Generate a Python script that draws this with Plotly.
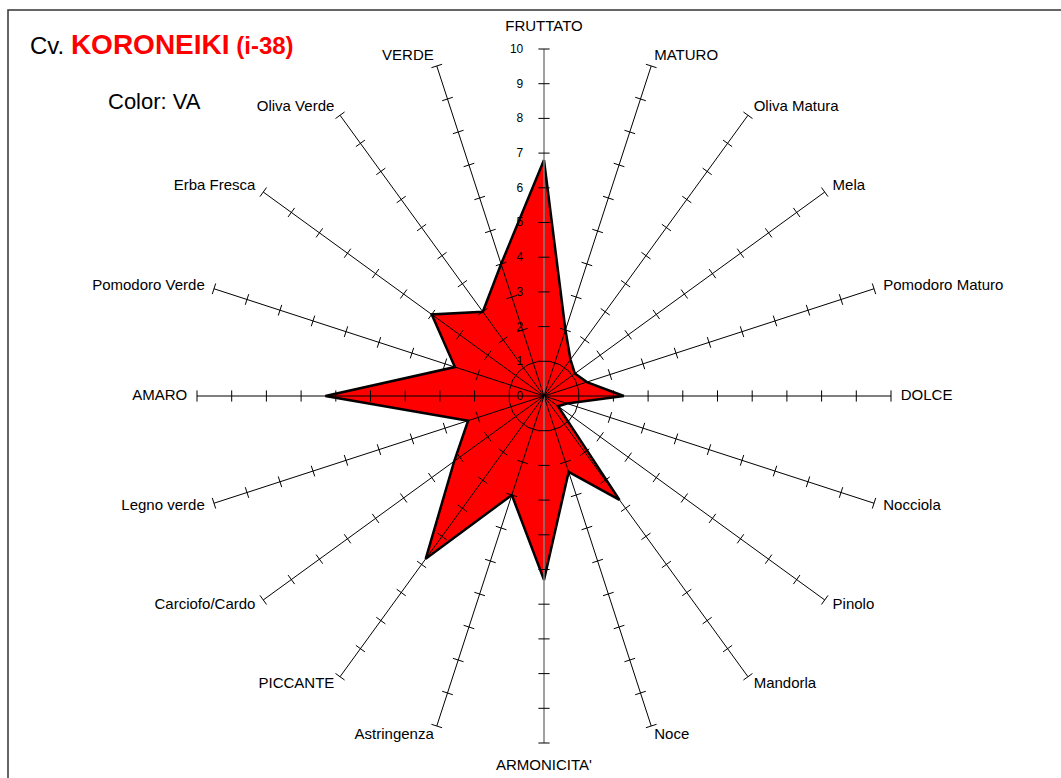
import plotly.graph_objects as go

categories = ["FRUTTATO", "MATURO", "Oliva Matura", "Mela", "Pomodoro Maturo", "DOLCE",
              "Nocciola", "Pinolo", "Mandorla", "Noce", "ARMONICITA'", "Astringenza",
              "PICCANTE", "Carciofo/Cardo", "Legno verde", "AMARO", "Pomodoro Verde",
              "Erba Fresca", "Oliva Verde", "VERDE"]
values = [6.8, 2.0, 1.3, 1.1, 1.3, 2.3, 0.7, 0.5, 3.7, 2.3, 5.3, 3.0,
          5.8, 3.2, 2.3, 6.3, 2.7, 4.0, 3.0, 4.0]
radial_ticks = list(range(0, 11))

FONT = "Liberation Sans, Arial, sans-serif"
W, H = 1061, 778
cx, cy, R = 544, 396, 347          # centre and pixel length of the value 10

rmax = radial_ticks[-1]
range_max = rmax * 1.05            # room for the category labels
Rd = R * range_max / rmax

fig = go.Figure()

# filled profile
fig.add_trace(go.Scatterpolar(
    r=values + [values[0]], theta=categories + [categories[0]],
    mode="lines", fill="toself", fillcolor="#FF0000",
    line=dict(color="black", width=2.5), hoverinfo="skip", showlegend=False))

# spokes drawn above the fill
n = len(categories)
for i, c in enumerate(categories):
    col = "#808080" if c in ("FRUTTATO", "ARMONICITA'") else "black"
    fig.add_trace(go.Scatterpolar(
        r=[0, rmax], theta=[c, c], mode="lines",
        line=dict(color=col, width=1.5 if col != "black" else 1),
        hoverinfo="skip", showlegend=False))

# tick crossbars on each spoke
tr, tt, ta = [], [], []
for i, c in enumerate(categories):
    for v in radial_ticks[1:]:
        tr.append(v)
        tt.append(c)
        ta.append(360.0 * i / n)
fig.add_trace(go.Scatterpolar(
    r=tr, theta=tt, mode="markers",
    marker=dict(symbol="line-ew", size=8, angle=ta,
                line=dict(color="black", width=1)),
    hoverinfo="skip", showlegend=False))

# category labels placed just beyond the end of each spoke
lab_r, lab_pos = [], []
for i, c in enumerate(categories):
    ang = 360.0 * i / n
    if ang == 0:
        lab_pos.append("top center"); lab_r.append(rmax * 1.04)
    elif ang == 180:
        lab_pos.append("bottom center"); lab_r.append(rmax * 1.045)
    elif ang < 180:
        lab_pos.append("middle right"); lab_r.append(rmax * 1.028)
    else:
        lab_pos.append("middle left"); lab_r.append(rmax * 1.028)
fig.add_trace(go.Scatterpolar(
    r=lab_r, theta=categories, mode="text", text=categories,
    textposition=lab_pos, cliponaxis=False,
    textfont=dict(family=FONT, size=15, color="black"),
    hoverinfo="skip", showlegend=False))

x0 = (cx - Rd) / W
x1 = (cx + Rd) / W
y1 = 1 - (cy - Rd) / H
y0 = 1 - (cy + Rd) / H

fig.update_layout(
    width=W, height=H,
    margin=dict(l=0, r=0, t=0, b=0),
    paper_bgcolor="white",
    font=dict(family=FONT, size=13, color="black"),
    polar=dict(
        domain=dict(x=[x0, x1], y=[y0, y1]),
        bgcolor="rgba(0,0,0,0)",
        angularaxis=dict(
            categoryorder="array", categoryarray=categories,
            direction="clockwise", rotation=90,
            showgrid=False, showline=False, showticklabels=False, ticks="",
        ),
        radialaxis=dict(
            range=[0, range_max], tickvals=radial_ticks, angle=90,
            side="counterclockwise", tickangle=90,
            showgrid=False, showline=False,
            ticks="outside", ticklen=16, tickcolor="rgba(0,0,0,0)",
            tickfont=dict(family=FONT, size=12, color="black"),
        ),
    ),
    shapes=[dict(type="rect", xref="paper", yref="paper",
                 x0=8 / W, x1=1.05, y0=-0.05, y1=1 - 10 / H,
                 line=dict(color="#333333", width=1.5), fillcolor="rgba(0,0,0,0)")],
    annotations=[
        dict(xref="paper", yref="paper", x=28 / W, y=1 - 44 / H,
             xanchor="left", yanchor="middle", showarrow=False,
             text="<span style='font-size:24px;color:black'>Cv. </span>"
                  "<b><span style='font-size:28px;color:#FF0000'>KORONEIKI</span>"
                  "<span style='font-size:24px;color:#FF0000'> (i-38)</span></b>",
             font=dict(family=FONT)),
        dict(xref="paper", yref="paper", x=106 / W, y=1 - 102 / H,
             xanchor="left", yanchor="middle", showarrow=False,
             text="Color: VA", font=dict(family=FONT, size=22, color="black")),
    ],
)

fig.write_html("out.html", config={"displayModeBar": False},
               post_script="document.body.style.margin='0';document.body.style.overflow='hidden';")
